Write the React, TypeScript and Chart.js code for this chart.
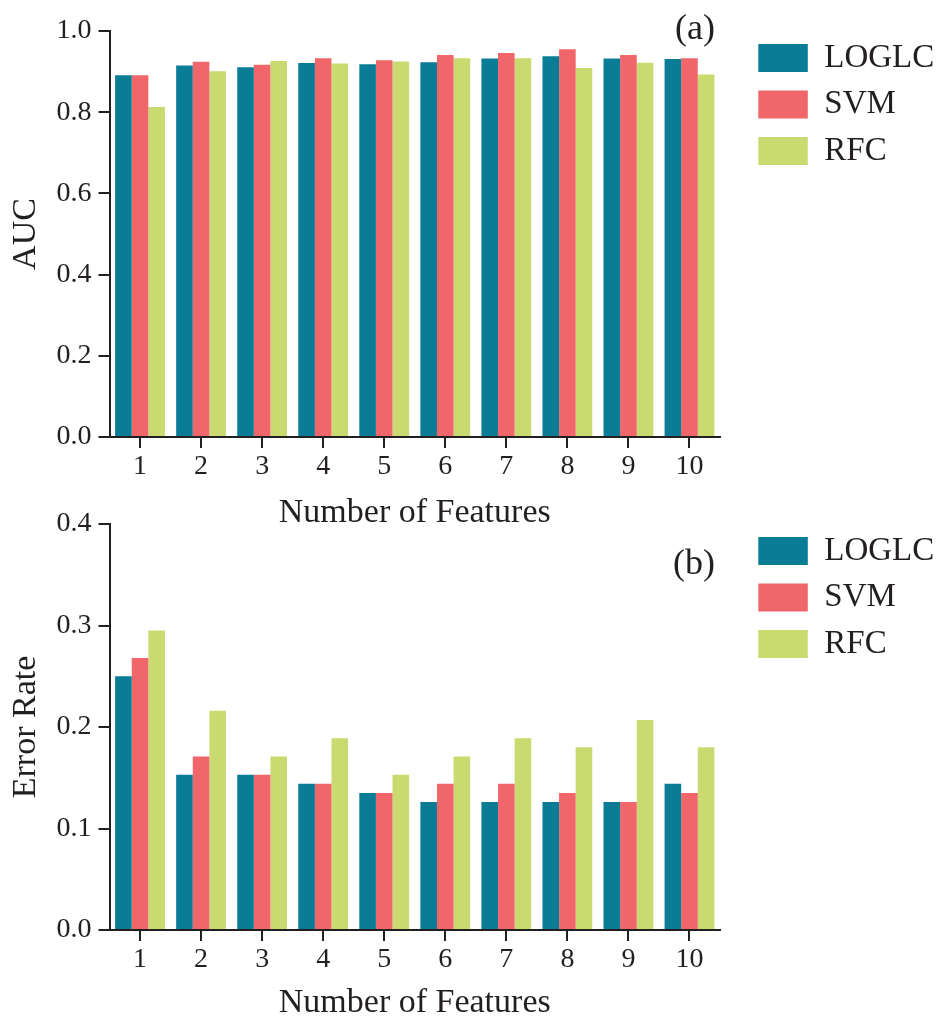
import React, { useEffect, useRef } from 'react';
import { Chart, registerables } from 'chart.js';

Chart.register(...registerables);

const features = ['1', '2', '3', '4', '5', '6', '7', '8', '9', '10'];
const methods = ['LOGLC', 'SVM', 'RFC'];
const methodColors = ['#0a7c96', '#f0666a', '#c9da70'];

const aucLOGLC = [0.891, 0.915, 0.911, 0.921, 0.918, 0.923, 0.932, 0.938, 0.932, 0.931];
const aucSVM = [0.891, 0.924, 0.917, 0.933, 0.928, 0.941, 0.946, 0.955, 0.941, 0.933];
const aucRFC = [0.813, 0.901, 0.926, 0.920, 0.925, 0.933, 0.933, 0.909, 0.922, 0.893];

const errLOGLC = [0.250, 0.153, 0.153, 0.144, 0.135, 0.126, 0.126, 0.126, 0.126, 0.144];
const errSVM = [0.268, 0.171, 0.153, 0.144, 0.135, 0.144, 0.144, 0.135, 0.126, 0.135];
const errRFC = [0.295, 0.216, 0.171, 0.189, 0.153, 0.171, 0.189, 0.180, 0.207, 0.180];

const aucAxis = { max: 1.0, step: 0.2, title: 'AUC' };
const errAxis = { max: 0.4, step: 0.1, title: 'Error Rate' };
const xTitle = 'Number of Features';

const FONT = "'Liberation Serif', 'Times New Roman', serif";
const INK = '#231f20';

type PanelSpec = {
  series: number[][];
  axis: { max: number; step: number; title: string };
  label: string;
  labelBaseline: number;
  padTop: number;
  height: number;
  xScaleHeight: number;
  xTitlePad: number;
};

function buildChart(canvas: HTMLCanvasElement, spec: PanelSpec) {
  const panelLabel = {
    id: 'panelLabel',
    afterDraw(chart: any) {
      const ctx = chart.ctx;
      ctx.save();
      ctx.font = `36px ${FONT}`;
      ctx.fillStyle = INK;
      ctx.textAlign = 'right';
      ctx.textBaseline = 'alphabetic';
      ctx.fillText(spec.label, 715, spec.labelBaseline);
      ctx.restore();
    },
  };
  const legendShift = {
    id: 'legendShift',
    afterLayout(chart: any) {
      const lg = chart.legend;
      if (!lg) return;
      const dx = 758.3 - (lg.left + 13.5);
      const dy = (spec.padTop + 13) - (lg.top + 13.5 + 2.5);
      lg.left += dx;
      lg.right += dx;
      lg.top += dy;
      lg.bottom += dy;
    },
  };

  return new Chart(canvas, {
    type: 'bar',
    data: {
      labels: features,
      datasets: methods.map((m, i) => ({
        label: m,
        data: spec.series[i],
        backgroundColor: methodColors[i],
        borderWidth: 0,
        categoryPercentage: 0.816,
        barPercentage: 1,
      })),
    },
    options: {
      responsive: false,
      animation: false,
      layout: { padding: { top: spec.padTop, right: 23.5, bottom: 0, left: 0 } },
      plugins: {
        tooltip: { enabled: false },
        title: { display: false },
        legend: {
          display: true,
          position: 'right',
          align: 'start',
          labels: {
            boxWidth: 49.5,
            boxHeight: 28,
            padding: 13.5,
            color: INK,
            font: { family: FONT, size: 33 },
          },
        },
      },
      scales: {
        x: {
          offset: true,
          grid: {
            offset: false,
            drawOnChartArea: false,
            drawTicks: true,
            tickLength: 11,
            color: INK,
            lineWidth: 2,
          },
          border: { display: true, color: INK, width: 2, z: 1 },
          ticks: {
            color: INK,
            padding: 5,
            maxRotation: 0,
            font: { family: FONT, size: 28, lineHeight: 1 },
          },
          title: {
            display: true,
            text: xTitle,
            color: INK,
            padding: { top: 0, bottom: spec.xTitlePad },
            font: { family: FONT, size: 34, lineHeight: 1 },
          },
          afterFit: (scale: any) => {
            scale.height = spec.xScaleHeight;
          },
        },
        y: {
          min: 0,
          max: spec.axis.max,
          grid: {
            drawOnChartArea: false,
            drawTicks: true,
            tickLength: 11,
            color: INK,
            lineWidth: 2,
          },
          border: { display: true, color: INK, width: 2, z: 1 },
          ticks: {
            stepSize: spec.axis.step,
            color: INK,
            padding: 7,
            font: { family: FONT, size: 28, lineHeight: 1.2 },
            callback: (v: any) => Number(v).toFixed(1),
          },
          title: {
            display: true,
            text: spec.axis.title,
            color: INK,
            padding: { top: 9, bottom: 0 },
            font: { family: FONT, size: 34, lineHeight: 1 },
          },
          afterFit: (scale: any) => {
            scale.width = 109.5;
          },
        },
      },
    },
    plugins: [panelLabel, legendShift],
  } as any);
}

function Panel({ spec, top }: { spec: PanelSpec; top: number }) {
  const ref = useRef<HTMLCanvasElement | null>(null);
  useEffect(() => {
    if (!ref.current) return;
    const chart = buildChart(ref.current, spec);
    return () => chart.destroy();
  }, []);
  return (
    <canvas
      ref={ref}
      width={943}
      height={spec.height}
      style={{ position: 'absolute', left: 0, top, width: 943, height: spec.height }}
    />
  );
}

const topSpec: PanelSpec = {
  series: [aucLOGLC, aucSVM, aucRFC],
  axis: aucAxis,
  label: '(a)',
  labelBaseline: 39.4,
  padTop: 31,
  height: 530,
  xScaleHeight: 93,
  xTitlePad: 0,
};

const bottomSpec: PanelSpec = {
  series: [errLOGLC, errSVM, errRFC],
  axis: errAxis,
  label: '(b)',
  labelBaseline: 84.4,
  padTop: 34,
  height: 531,
  xScaleHeight: 91,
  xTitlePad: 0.5,
};

export default function App() {
  return (
    <div style={{ position: 'absolute', left: 0, top: 0, width: 943, height: 1021, background: '#ffffff' }}>
      <Panel spec={topSpec} top={0} />
      <Panel spec={bottomSpec} top={490} />
    </div>
  );
}
